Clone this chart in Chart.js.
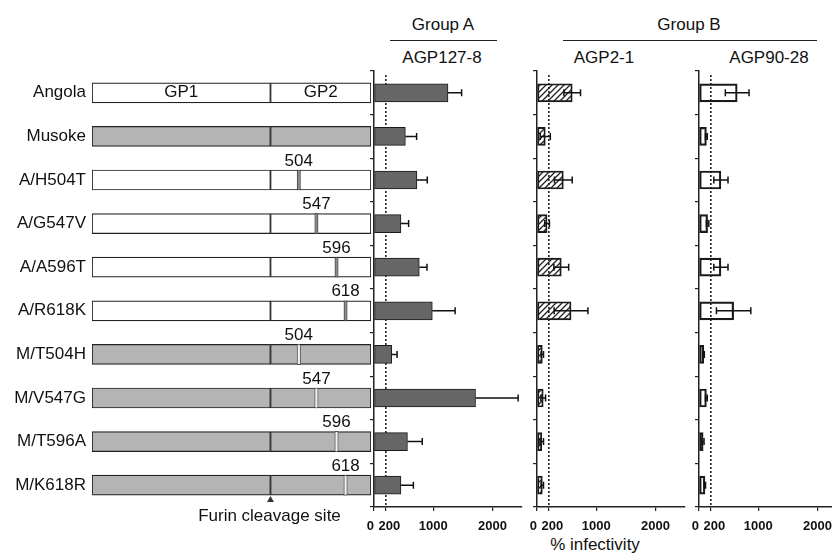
<!DOCTYPE html>
<html>
<head>
<meta charset="utf-8">
<script src="https://cdn.jsdelivr.net/npm/chart.js@4.4.0/dist/chart.umd.min.js"></script>
<style>
  html, body { margin: 0; padding: 0; background: #fff; overflow: hidden; }
  body { width: 832px; height: 554px; position: relative; font-family: "Liberation Sans", Arial, sans-serif; color: #111; }
  canvas { position: absolute; top: 0; }
  .lbl { position: absolute; width: 200px; text-align: center; font-size: 17px; line-height: 20px; white-space: nowrap; }
  .rule { position: absolute; height: 0; border-top: 1.5px solid #222; }
</style>
</head>
<body>

<div class="lbl" style="left:343px;top:15px">Group A</div>
<div class="rule" style="left:390px;top:40px;width:107px"></div>
<div class="lbl" style="left:589px;top:15px">Group B</div>
<div class="rule" style="left:563px;top:40px;width:254px"></div>
<div class="lbl" style="left:342px;top:48px">AGP127-8</div>
<div class="lbl" style="left:504px;top:48px">AGP2-1</div>
<div class="lbl" style="left:669px;top:48px">AGP90-28</div>
<div class="lbl" style="left:495px;top:535px">% infectivity</div>

<canvas id="scheme" width="380" height="554" style="left:0px"></canvas>
<canvas id="agp127" width="176" height="554" style="left:354px"></canvas>
<canvas id="agp21" width="176" height="554" style="left:517px"></canvas>
<canvas id="agp9028" width="176" height="554" style="left:679px"></canvas>

<script>
// constructs, top to bottom
var constructs = ['Angola', 'Musoke', 'A/H504T', 'A/G547V', 'A/A596T', 'A/R618K',
                  'M/T504H', 'M/V547G', 'M/T596A', 'M/K618R'];
var backbone = ['A', 'M', 'A', 'A', 'A', 'A', 'M', 'M', 'M', 'M'];
var mutationSite = [null, null, 504, 547, 596, 618, 504, 547, 596, 618];
var gpLength = 680;
var cleavageSite = 435;   // GP1/GP2 border as drawn in the diagram

// % infectivity, mean and sd
var agp127Mean = [1250, 530, 725, 455, 765, 985, 300, 1715, 565, 455];
var agp127Sd   = [230, 190, 175, 130, 130, 385, 90, 720, 250, 210];
var agp21Mean  = [595, 140, 445, 170, 410, 575, 90, 105, 80, 90];
var agp21Sd    = [140, 85, 150, 40, 125, 285, 20, 40, 30, 20];
var agp9028Mean = [645, 125, 370, 145, 370, 585, 80, 125, 70, 100];
var agp9028Sd   = [200, 15, 120, 20, 120, 290, 10, 15, 15, 10];

var xTicks = [0, 200, 1000, 2000];
var xMax = 2500;
var cutoff = 200;

var FONT = '"Liberation Sans", Arial, sans-serif';

// ---- construct diagram ----
var boxFill = backbone.map(function (b) { return b === 'A' ? '#ffffff' : '#b4b4b4'; });
var markFill = backbone.map(function (b) { return b === 'A' ? '#8a8a8a' : '#f2f2f2'; });

var schemeLabels = {
  id: 'schemeLabels',
  afterDatasetsDraw: function (chart) {
    var ctx = chart.ctx, x = chart.scales.x, y = chart.scales.y;
    ctx.save();
    ctx.font = '17px ' + FONT;
    ctx.fillStyle = '#111';
    ctx.textAlign = 'center';
    ctx.textBaseline = 'middle';
    var y0 = y.getPixelForValue(0);
    ctx.fillText('GP1', x.getPixelForValue(cleavageSite / 2), y0);
    ctx.fillText('GP2', x.getPixelForValue((cleavageSite + gpLength) / 2), y0);
    mutationSite.forEach(function (p, i) {
      if (p === null) return;
      ctx.fillText(String(p), x.getPixelForValue(p), y.getPixelForValue(i) - 19);
    });
    // furin cleavage site marker
    var fx = x.getPixelForValue(cleavageSite), fb = chart.chartArea.bottom;
    ctx.beginPath();
    ctx.moveTo(fx, fb - 11);
    ctx.lineTo(fx - 3.5, fb - 5);
    ctx.lineTo(fx + 3.5, fb - 5);
    ctx.closePath();
    ctx.fillStyle = '#333';
    ctx.fill();
    ctx.fillStyle = '#111';
    ctx.fillText('Furin cleavage site', fx - 1, fb + 9);
    ctx.restore();
  }
};

new Chart(document.getElementById('scheme'), {
  type: 'bar',
  data: {
    labels: constructs,
    datasets: [
      { data: constructs.map(function () { return [0, cleavageSite]; }), backgroundColor: boxFill, order: 2 },
      { data: constructs.map(function () { return [cleavageSite, gpLength]; }), backgroundColor: boxFill, order: 1 },
      { data: mutationSite.map(function (p) { return p === null ? null : [p - 4, p + 4]; }),
        backgroundColor: markFill, borderWidth: 0.8, borderColor: '#333', order: 0 }
    ]
  },
  options: {
    indexAxis: 'y',
    responsive: false,
    animation: false,
    events: [],
    layout: { padding: { top: 71, bottom: 47, left: 0, right: 9 } },
    datasets: { bar: { grouped: false, barThickness: 20, borderWidth: 1.2, borderColor: '#222', borderSkipped: false } },
    plugins: { legend: { display: false }, tooltip: { enabled: false } },
    scales: {
      x: { type: 'linear', min: 0, max: gpLength, display: false },
      y: {
        type: 'category',
        grid: { display: false, drawTicks: false, tickLength: 0 },
        border: { display: false },
        ticks: { color: '#111', padding: 6, font: { size: 17, family: FONT } },
        afterFit: function (s) { s.width = 92; }
      }
    }
  },
  plugins: [schemeLabels]
});

// ---- infectivity panels ----
function hatch() {
  var c = document.createElement('canvas');
  c.width = 6; c.height = 6;
  var g = c.getContext('2d');
  g.strokeStyle = '#222';
  g.lineWidth = 1.3;
  g.beginPath();
  g.moveTo(0, 6); g.lineTo(6, 0);
  g.moveTo(-1, 1); g.lineTo(1, -1);
  g.moveTo(5, 7); g.lineTo(7, 5);
  g.stroke();
  return g.createPattern(c, 'repeat');
}

function refLine() {
  return {
    id: 'refLine',
    beforeDatasetsDraw: function (chart) {
      var ctx = chart.ctx, a = chart.chartArea;
      var px = chart.scales.x.getPixelForValue(cutoff);
      ctx.save();
      ctx.strokeStyle = '#222';
      ctx.lineWidth = 1.6;
      ctx.setLineDash([2, 2]);
      ctx.beginPath();
      ctx.moveTo(px, a.top + 4);
      ctx.lineTo(px, a.bottom);
      ctx.stroke();
      ctx.restore();
    }
  };
}

function errorBars(mean, sd, bothSides) {
  return {
    id: 'errorBars',
    afterDatasetsDraw: function (chart) {
      var ctx = chart.ctx, x = chart.scales.x;
      var bars = chart.getDatasetMeta(0).data;
      ctx.save();
      ctx.strokeStyle = '#111';
      ctx.lineWidth = 1.5;
      bars.forEach(function (bar, i) {
        var hi = x.getPixelForValue(mean[i] + sd[i]);
        var lo = x.getPixelForValue(bothSides ? Math.max(0, mean[i] - sd[i]) : mean[i]);
        var yy = bar.y;
        ctx.beginPath();
        ctx.moveTo(lo, yy); ctx.lineTo(hi, yy);
        ctx.moveTo(hi, yy - 3.5); ctx.lineTo(hi, yy + 3.5);
        if (bothSides) { ctx.moveTo(lo, yy - 3.5); ctx.lineTo(lo, yy + 3.5); }
        ctx.stroke();
      });
      ctx.restore();
    }
  };
}

function makePanel(id, mean, sd, fill, borderWidth, bothSides) {
  new Chart(document.getElementById(id), {
    type: 'bar',
    data: {
      labels: constructs,
      datasets: [{
        data: mean,
        backgroundColor: fill,
        borderColor: '#1a1a1a',
        borderWidth: borderWidth,
        borderSkipped: false,
        barThickness: 18
      }]
    },
    options: {
      indexAxis: 'y',
      responsive: false,
      animation: false,
      events: [],
      layout: { padding: { top: 71, bottom: 0, left: 0, right: 8 } },
      plugins: { legend: { display: false }, tooltip: { enabled: false } },
      scales: {
        x: {
          type: 'linear', min: 0, max: xMax,
          afterBuildTicks: function (s) { s.ticks = xTicks.map(function (v) { return { value: v }; }); },
          afterFit: function (s) { s.height = 47; },
          grid: { drawOnChartArea: false, tickLength: 4, color: '#222', lineWidth: 1.2 },
          border: { color: '#222', width: 1.5 },
          ticks: {
            autoSkip: false, maxRotation: 0, padding: 8, color: '#111',
            font: { size: 13, weight: 'bold', family: FONT },
            callback: function (v) {
              if (v === 0) return '0  ';
              if (v === 200) return '  200';
              return String(v);
            }
          }
        },
        y: {
          type: 'category',
          afterFit: function (s) { s.width = 20; },
          grid: { offset: true, drawOnChartArea: false, tickLength: 4, color: '#222', lineWidth: 1.2 },
          border: { color: '#222', width: 1.5 },
          ticks: { display: false }
        }
      }
    },
    plugins: [refLine(), errorBars(mean, sd, bothSides)]
  });
}

makePanel('agp127', agp127Mean, agp127Sd, '#666666', 1, false);
makePanel('agp21', agp21Mean, agp21Sd, hatch(), 1.2, true);
makePanel('agp9028', agp9028Mean, agp9028Sd, 'rgba(255,255,255,0)', 1.5, true);
</script>
</body>
</html>
